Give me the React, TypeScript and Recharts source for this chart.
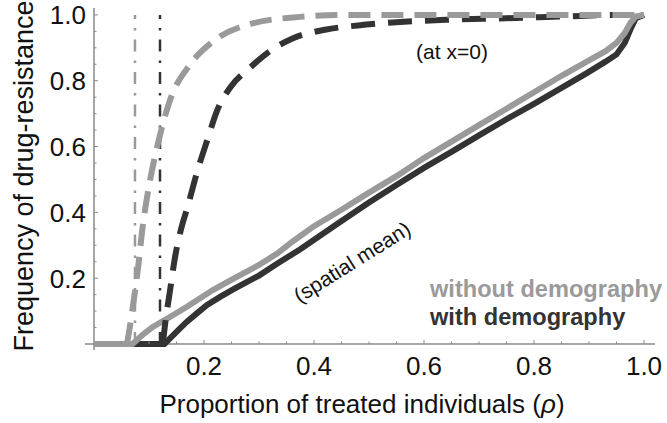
import { LineChart, Line, XAxis, YAxis, ReferenceLine } from "recharts";

const LIGHT = "#9a9a9a";
const DARK = "#333333";
const AXIS = "#8a8a8a";
const FONT = "'Liberation Sans', Arial, Helvetica, sans-serif";

// values: rho on x, frequency of resistance on y
// dashed = at x=0, solid = spatial mean
const dashedWithoutX = [0.06, 0.065, 0.072, 0.08, 0.088, 0.1, 0.115, 0.138, 0.175, 0.217, 0.29, 0.375, 0.45, 0.6, 0.8, 1.0];
const dashedWithoutY = [0, 0.05, 0.13, 0.23, 0.35, 0.48, 0.6, 0.74, 0.85, 0.92, 0.975, 0.994, 1.0, 1.0, 1.0, 1.0];

const dashedWithX = [0.125, 0.13, 0.138, 0.148, 0.16, 0.169, 0.187, 0.206, 0.224, 0.248, 0.284, 0.315, 0.363, 0.42, 0.48, 0.55, 0.64, 0.75, 0.85, 0.95, 1.0];
const dashedWithY = [0, 0.07, 0.16, 0.27, 0.36, 0.41, 0.52, 0.62, 0.71, 0.78, 0.84, 0.884, 0.93, 0.955, 0.968, 0.978, 0.985, 0.99, 0.995, 1.0, 1.0];

const meanWithoutX = [0, 0.07, 0.09, 0.107, 0.138, 0.169, 0.216, 0.253, 0.3, 0.333, 0.36, 0.4, 0.45, 0.5, 0.55, 0.6, 0.65, 0.7, 0.75, 0.8, 0.85, 0.9, 0.93, 0.95, 0.965, 0.975, 0.985, 1.0];
const meanWithoutY = [0, 0, 0.03, 0.052, 0.082, 0.113, 0.164, 0.198, 0.24, 0.275, 0.31, 0.358, 0.408, 0.46, 0.51, 0.565, 0.615, 0.665, 0.715, 0.765, 0.815, 0.862, 0.89, 0.915, 0.945, 0.975, 0.995, 1.0];

const meanWithX = [0, 0.128, 0.14, 0.155, 0.169, 0.187, 0.205, 0.23, 0.253, 0.3, 0.332, 0.375, 0.45, 0.5, 0.55, 0.6, 0.653, 0.7, 0.75, 0.8, 0.85, 0.896, 0.93, 0.95, 0.965, 0.975, 0.985, 1.0];
const meanWithY = [0, 0, 0.02, 0.045, 0.068, 0.093, 0.118, 0.144, 0.166, 0.208, 0.243, 0.288, 0.374, 0.43, 0.483, 0.535, 0.587, 0.634, 0.683, 0.73, 0.778, 0.823, 0.858, 0.88, 0.915, 0.955, 0.99, 1.0];

// critical rho (dot-dashed verticals)
const thresholdWithout = 0.0745;
const thresholdWith = 0.12;

const xTicks = [0.05, 0.1, 0.15, 0.2, 0.25, 0.3, 0.35, 0.4, 0.45, 0.5, 0.55, 0.6, 0.65, 0.7, 0.75, 0.8, 0.85, 0.9, 0.95, 1.0];
const yTicks = [0.05, 0.1, 0.15, 0.2, 0.25, 0.3, 0.35, 0.4, 0.45, 0.5, 0.55, 0.6, 0.65, 0.7, 0.75, 0.8, 0.85, 0.9, 0.95, 1.0];

const zip = (xs: number[], ys: number[]) => xs.map((x, i) => ({ x, y: ys[i] }));

const isMajor = (v: number) => Math.abs(v * 5 - Math.round(v * 5)) < 1e-6;

function renderXTick(props: any) {
  const { x, y, payload, index } = props;
  const v = payload.value;
  const major = isMajor(v);
  return (
    <g key={`xt-${index}`}>
      <line x1={x} x2={x} y1={y} y2={y - (major ? 4 : 2.5)} stroke={AXIS} strokeWidth={1} />
      {major && (
        <text x={x} y={y + 31} textAnchor="middle" fontSize={26} fontFamily={FONT} fill="#111">
          {v.toFixed(1)}
        </text>
      )}
    </g>
  );
}

function renderYTick(props: any) {
  const { x, y, payload, index } = props;
  const v = payload.value;
  const major = isMajor(v);
  return (
    <g key={`yt-${index}`}>
      <line x1={x} x2={x + (major ? 4 : 2.5)} y1={y} y2={y} stroke={AXIS} strokeWidth={1} />
      {major && (
        <text x={x - 8} y={y} dy="0.36em" textAnchor="end" fontSize={26} fontFamily={FONT} fill="#111">
          {v.toFixed(1)}
        </text>
      )}
    </g>
  );
}

export default function App() {
  return (
    <div style={{ position: "absolute", left: 0, top: 0, width: 667, height: 423, background: "#fff" }}>
      <LineChart
        width={667}
        height={423}
        margin={{ top: 8, right: 12, bottom: 78, left: 93 }}
      >
        <XAxis
          dataKey="x"
          type="number"
          domain={[0, 1.02]}
          ticks={xTicks}
          interval={0}
          axisLine={false}
          tickLine={false}
          tickSize={0}
          tickMargin={0}
          height={1}
          tick={renderXTick}
        />
        <YAxis
          type="number"
          domain={[0, 1.021]}
          ticks={yTicks}
          interval={0}
          axisLine={false}
          tickLine={false}
          tickSize={0}
          tickMargin={0}
          width={1}
          tick={renderYTick}
        />
        <ReferenceLine
          segment={[{ x: -0.0164, y: 0 }, { x: 1.02, y: 0 }]}
          stroke={AXIS}
          strokeWidth={1.5}
          ifOverflow="visible"
        />
        <ReferenceLine
          segment={[{ x: 0, y: -0.018 }, { x: 0, y: 1.021 }]}
          stroke={AXIS}
          strokeWidth={1.5}
          ifOverflow="visible"
        />
        <ReferenceLine
          segment={[{ x: thresholdWithout, y: 0 }, { x: thresholdWithout, y: 1 }]}
          stroke={LIGHT}
          strokeWidth={2.5}
          strokeDasharray="12 9 2.5 9"
          ifOverflow="visible"
        />
        <ReferenceLine
          segment={[{ x: thresholdWith, y: 0 }, { x: thresholdWith, y: 1 }]}
          stroke={DARK}
          strokeWidth={2.5}
          strokeDasharray="12 9 2.5 9"
          ifOverflow="visible"
        />
        <Line
          data={zip(meanWithX, meanWithY)}
          dataKey="y"
          type="linear"
          stroke={DARK}
          strokeWidth={6}
          dot={false}
          activeDot={false}
          isAnimationActive={false}
        />
        <Line
          data={zip(meanWithoutX, meanWithoutY)}
          dataKey="y"
          type="linear"
          stroke={LIGHT}
          strokeWidth={6}
          dot={false}
          activeDot={false}
          isAnimationActive={false}
        />
        <Line
          data={zip(dashedWithX, dashedWithY)}
          dataKey="y"
          type="monotone"
          stroke={DARK}
          strokeWidth={6}
          strokeDasharray="24 13"
          strokeLinecap="butt"
          dot={false}
          activeDot={false}
          isAnimationActive={false}
        />
        <Line
          data={zip(dashedWithoutX, dashedWithoutY)}
          dataKey="y"
          type="monotone"
          stroke={LIGHT}
          strokeWidth={6}
          strokeDasharray="22 11"
          strokeLinecap="butt"
          dot={false}
          activeDot={false}
          isAnimationActive={false}
        />
      </LineChart>
      <svg
        width={667}
        height={423}
        style={{ position: "absolute", left: 0, top: 0, pointerEvents: "none" }}
        fontFamily={FONT}
      >
        <text x={24} y={176} transform="rotate(-90 24 176)" textAnchor="middle" dy="0.35em" fontSize={27} fill="#111">
          Frequency of drug-resistance
        </text>
        <text x={362} y={413} textAnchor="middle" fontSize={26} fill="#111">
          Proportion of treated individuals (<tspan fontStyle="italic">ρ</tspan>)
        </text>
        <text x={452} y={59} textAnchor="middle" fontSize={21} fill="#111">
          (at x=0)
        </text>
        <text x={352} y={262} transform="rotate(-32 352 262)" textAnchor="middle" dy="0.35em" fontSize={21} fill="#111">
          (spatial mean)
        </text>
        <text x={430} y={297} fontSize={23.6} fontWeight="bold" fill={LIGHT}>
          without demography
        </text>
        <text x={430} y={325} fontSize={23.6} fontWeight="bold" fill={DARK}>
          with demography
        </text>
      </svg>
    </div>
  );
}
